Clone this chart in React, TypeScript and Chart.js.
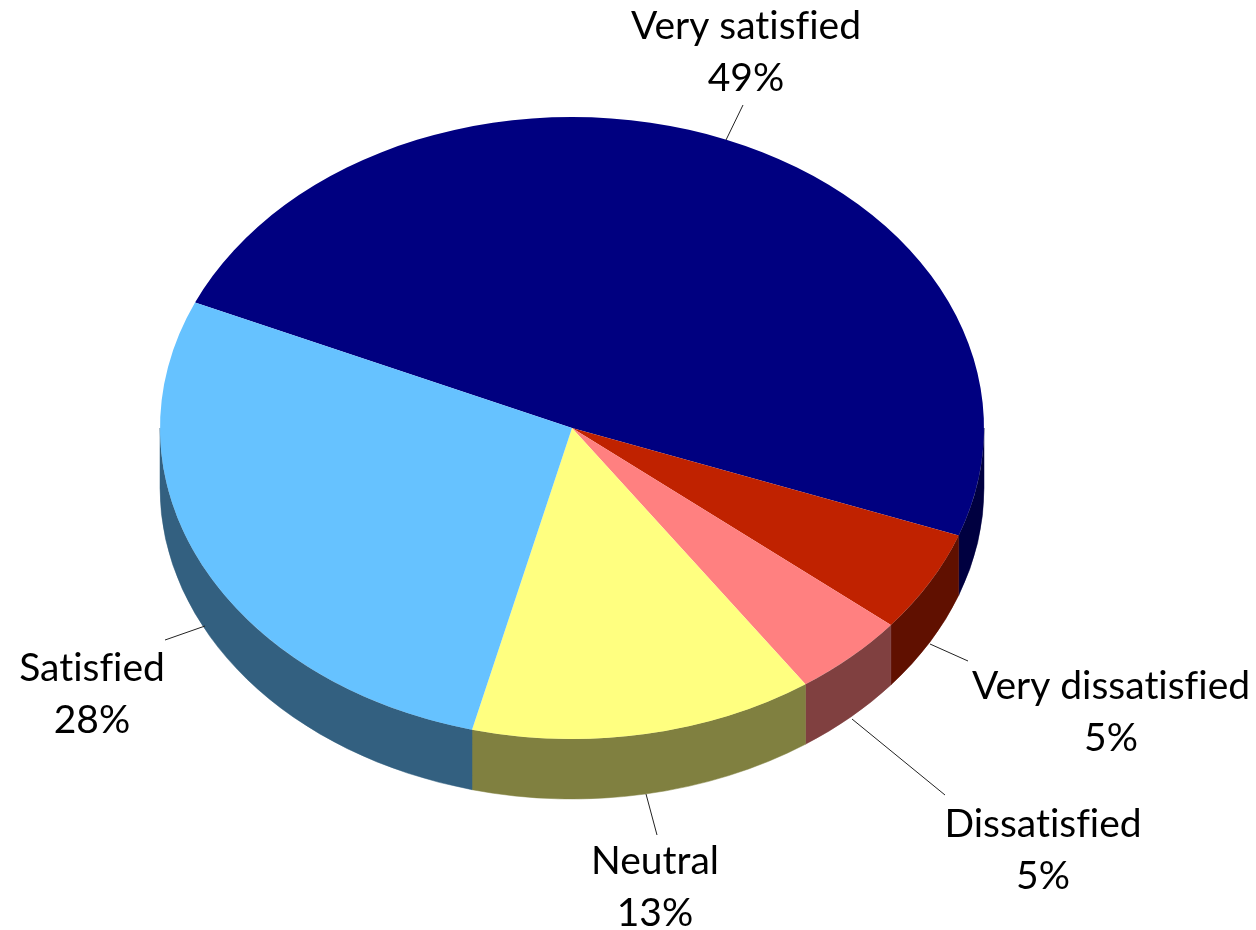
import React, { useEffect, useRef } from "react";
import { Chart, registerables } from "chart.js";

Chart.register(...registerables);

const categories = ["Very satisfied", "Very dissatisfied", "Dissatisfied", "Neutral", "Satisfied"];
const shares = [49, 5.3, 4.5, 13.49, 27.71];
const topColors = ["#000080", "#C02200", "#FF8080", "#FFFF80", "#66C2FF"];
const sideColors = ["#000040", "#601000", "#804040", "#808040", "#336080"];

const W = 1256;
const H = 930;
const SQUASH = 311 / 412;
const DEPTH = 60;
const START_ANGLE = -66.2;
const FONT = '39px Lato, "Open Sans", sans-serif';
const LINE_GAP = 52;

// label layout per category: text centre x, first baseline y, leader line ends
const labelLayout = [
  { x: 746, y: 39, line: [743, 105, 726, 140] },
  { x: 1111, y: 699, line: [968, 661, 930, 644] },
  { x: 1043, y: 837, line: [945, 795, 852, 719] },
  { x: 655, y: 874, line: [657, 835, 646, 794] },
  { x: 92, y: 681, line: [165, 640, 205, 626] },
];

const pie3d = {
  id: "pie3d",
  beforeDatasetsDraw(chart: any) {
    const ctx = chart.ctx;
    const arcs = chart.getDatasetMeta(0).data;
    ctx.save();
    arcs.forEach((arc: any, i: number) => {
      const { x, y, startAngle, endAngle, outerRadius } = arc.getProps(
        ["x", "y", "startAngle", "endAngle", "outerRadius"],
        true
      );
      const a = Math.max(startAngle, 0);
      const b = Math.min(endAngle, Math.PI);
      if (b <= a) return;
      const rx = outerRadius;
      const ry = outerRadius * SQUASH;
      ctx.beginPath();
      ctx.ellipse(x, y, rx, ry, 0, a, b, false);
      ctx.ellipse(x, y + DEPTH, rx, ry, 0, b, a, true);
      ctx.closePath();
      ctx.fillStyle = sideColors[i];
      ctx.strokeStyle = sideColors[i];
      ctx.lineWidth = 0.5;
      ctx.fill();
      ctx.stroke();
    });
    ctx.restore();
    const first = arcs[0];
    ctx.save();
    ctx.translate(first.x, first.y);
    ctx.scale(1, SQUASH);
    ctx.translate(-first.x, -first.y);
  },
  afterDatasetsDraw(chart: any) {
    const ctx = chart.ctx;
    ctx.restore();
    ctx.save();
    ctx.strokeStyle = "#222222";
    ctx.lineWidth = 1;
    labelLayout.forEach((l) => {
      ctx.beginPath();
      ctx.moveTo(l.line[0], l.line[1]);
      ctx.lineTo(l.line[2], l.line[3]);
      ctx.stroke();
    });
    ctx.fillStyle = "#000000";
    ctx.font = FONT;
    (ctx as any).textRendering = "optimizeSpeed";
    ctx.textAlign = "center";
    ctx.textBaseline = "alphabetic";
    categories.forEach((name, i) => {
      const l = labelLayout[i];
      ctx.fillText(name, l.x, l.y);
      ctx.fillText(`${Math.round(shares[i])}%`, l.x, l.y + LINE_GAP);
    });
    ctx.restore();
  },
};

export default function App() {
  const ref = useRef<HTMLCanvasElement>(null);
  useEffect(() => {
    const chart = new Chart(ref.current as HTMLCanvasElement, {
      type: "pie",
      data: {
        labels: categories,
        datasets: [
          {
            data: shares,
            backgroundColor: topColors,
            borderWidth: 0,
            clip: false,
          } as any,
        ],
      },
      options: {
        responsive: false,
        animation: false,
        rotation: START_ANGLE,
        layout: { padding: { left: 160, right: 272, top: 16, bottom: 90 } },
        plugins: { legend: { display: false }, tooltip: { enabled: false } },
      },
      plugins: [pie3d],
    });
    return () => chart.destroy();
  }, []);
  return (
    <div style={{ position: "absolute", left: 0, top: 0, width: W, height: H, background: "#fff" }}>
      <canvas ref={ref} width={W} height={H} style={{ display: "block" }} />
    </div>
  );
}
